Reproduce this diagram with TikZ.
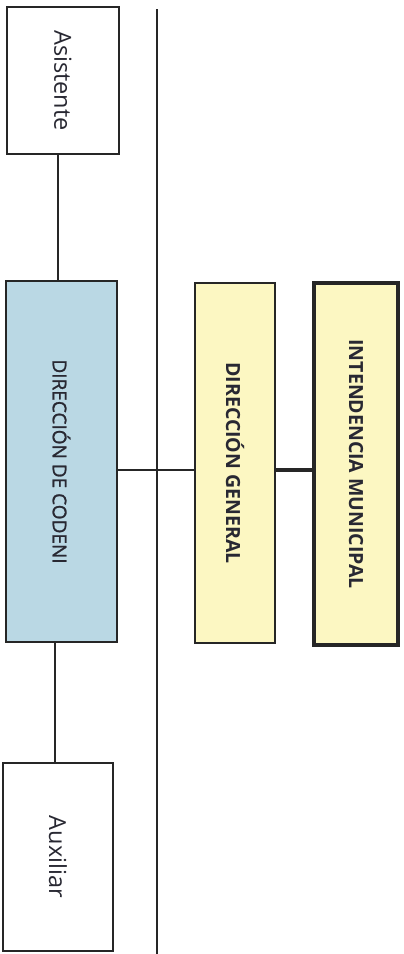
\documentclass[tikz,border=0pt]{standalone}
\usepackage{fontspec}
\setmainfont{Open Sans}
\newfontfamily\semifont[FakeBold=1.2]{Open Sans}
\usetikzlibrary{positioning}
\definecolor{codeni}{RGB}{186,216,228}
\definecolor{mando}{RGB}{252,247,194}
\definecolor{texto}{RGB}{40,40,50}

\begin{document}
\begin{tikzpicture}[
  x=1pt, y=-1pt,
  every node/.style={text=texto, inner sep=0pt},
  cargo/.style={draw=black!85, line width=1.6pt, fill=white,
                font=\fontsize{23.5}{26}\selectfont},
  dir/.style={draw=black!85, line width=1.6pt, fill=codeni,
              font=\fontsize{19}{22}\semifont},
  sup/.style={draw=black!85, line width=1.6pt, fill=mando,
              font=\fontsize{19.5}{22}\selectfont\bfseries},
  link/.style={line width=1.6pt, draw=black!85}
]
\useasboundingbox (0,0) rectangle (404,954);

% staff boxes
\node[cargo, minimum width=112pt, minimum height=147pt] (asis) at (63,80.5)
  {\rotatebox{-90}{Asistente}};
\node[cargo, minimum width=110pt, minimum height=188pt] (aux) at (58,857)
  {\rotatebox{-90}{Auxiliar}};

% CODENI
\node[dir, minimum width=111pt, minimum height=361pt] (cod) at (61.5,461.5)
  {\rotatebox{-90}{DIRECCIÓN DE CODENI}};

% higher levels
\node[sup, minimum width=80pt, minimum height=360pt] (gen) at (235,463)
  {\rotatebox{-90}{DIRECCIÓN GENERAL}};
\node[sup, line width=4.2pt, minimum width=84pt, minimum height=362pt] (int) at (356,464)
  {\rotatebox{-90}{INTENDENCIA MUNICIPAL}};

% dividing line
\coordinate (top) at (157,9);
\coordinate (bot) at (157,954);
\draw[link] (top) -- (bot);

% Connectors
\coordinate (lvl) at (0,470);
\draw[link] (asis.south -| 58,0) -- (cod.north -| 58,0);
\draw[link] (cod.south -| 55,0) -- (aux.north -| 55,0);
\draw[link] (cod.east |- lvl) -- (gen.west |- lvl);
\draw[link, line width=4pt] (gen.east |- lvl) -- (int.west |- lvl);

\end{tikzpicture}
\end{document}
